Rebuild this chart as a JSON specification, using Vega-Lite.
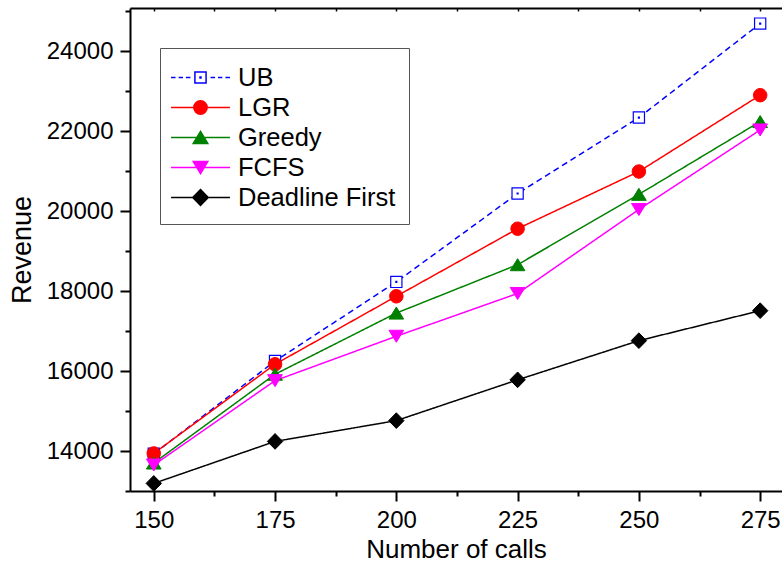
{
  "$schema": "https://vega.github.io/schema/vega-lite/v6.json",
  "autosize": {"type": "none"},
  "padding": {"left": 130, "top": 8, "right": 0, "bottom": 71},
  "width": 652,
  "height": 483,
  "background": "white",
  "config": {
    "view": {"stroke": null},
    "font": "Liberation Sans",
    "axis": {
      "grid": false,
      "domainColor": "black",
      "domainWidth": 2,
      "tickColor": "black",
      "tickWidth": 2,
      "labelFont": "Liberation Sans",
      "labelFontSize": 24,
      "labelColor": "black",
      "labelPadding": 7,
      "titleFont": "Liberation Sans",
      "titleFontWeight": "normal",
      "titleColor": "black"
    },
    "legend": {
      "padding": 13,
      "fillColor": "white",
      "strokeColor": "#555555",
      "labelFont": "Liberation Sans",
      "labelFontSize": 25.5,
      "labelColor": "black",
      "labelLimit": 400,
      "symbolSize": 961,
      "symbolStrokeWidth": 1.5,
      "symbolOffset": 11,
      "labelOffset": 21,
      "rowPadding": -0.3
    }
  },
  "data": {
    "values": [
      {"calls": 150, "series": "UB", "revenue": 13930},
      {"calls": 175, "series": "UB", "revenue": 16250},
      {"calls": 200, "series": "UB", "revenue": 18230},
      {"calls": 225, "series": "UB", "revenue": 20440},
      {"calls": 250, "series": "UB", "revenue": 22340},
      {"calls": 275, "series": "UB", "revenue": 24690},
      {"calls": 150, "series": "LGR", "revenue": 13940},
      {"calls": 175, "series": "LGR", "revenue": 16170},
      {"calls": 200, "series": "LGR", "revenue": 17870},
      {"calls": 225, "series": "LGR", "revenue": 19560},
      {"calls": 250, "series": "LGR", "revenue": 20990},
      {"calls": 275, "series": "LGR", "revenue": 22900},
      {"calls": 150, "series": "Greedy", "revenue": 13700},
      {"calls": 175, "series": "Greedy", "revenue": 15920},
      {"calls": 200, "series": "Greedy", "revenue": 17450},
      {"calls": 225, "series": "Greedy", "revenue": 18660},
      {"calls": 250, "series": "Greedy", "revenue": 20420},
      {"calls": 275, "series": "Greedy", "revenue": 22240},
      {"calls": 150, "series": "FCFS", "revenue": 13650},
      {"calls": 175, "series": "FCFS", "revenue": 15760},
      {"calls": 200, "series": "FCFS", "revenue": 16870},
      {"calls": 225, "series": "FCFS", "revenue": 17940},
      {"calls": 250, "series": "FCFS", "revenue": 20040},
      {"calls": 275, "series": "FCFS", "revenue": 22030},
      {"calls": 150, "series": "Deadline First", "revenue": 13190},
      {"calls": 175, "series": "Deadline First", "revenue": 14240},
      {"calls": 200, "series": "Deadline First", "revenue": 14760},
      {"calls": 225, "series": "Deadline First", "revenue": 15780},
      {"calls": 250, "series": "Deadline First", "revenue": 16760},
      {"calls": 275, "series": "Deadline First", "revenue": 17510}
    ]
  },
  "resolve": {"axis": {"x": "independent"}},
  "layer": [
    {
      "mark": {"type": "line", "strokeWidth": 1.5},
      "encoding": {
        "x": {
          "field": "calls", "type": "quantitative",
          "scale": {"domain": [145.1, 279.5], "nice": false, "zero": false},
          "axis": {
            "orient": "bottom",
            "title": "Number of calls",
            "titleFontSize": 26,
            "titlePadding": 4,
            "values": [150, 162.5, 175, 187.5, 200, 212.5, 225, 237.5, 250, 262.5, 275],
            "labelExpr": "datum.value % 25 === 0 ? datum.label : ''",
            "tickSize": {"condition": {"test": "datum.value % 25 !== 0", "value": 5}, "value": 10}
          }
        },
        "y": {
          "field": "revenue", "type": "quantitative",
          "scale": {"domain": [13000, 25080], "nice": false, "zero": false},
          "axis": {
            "title": "Revenue",
            "titleFontSize": 27,
            "titlePadding": 10,
            "format": "d",
            "domainWidth": 2,
            "domainColor": "black",
            "values": [13000, 14000, 15000, 16000, 17000, 18000, 19000, 20000, 21000, 22000, 23000, 24000, 25000],
            "labelExpr": "datum.value % 2000 === 0 ? datum.label : ''",
            "tickSize": {"condition": {"test": "datum.value % 2000 !== 0", "value": 5}, "value": 10}
          }
        },
        "detail": {"field": "series"},
        "stroke": {
          "field": "series", "type": "nominal",
          "scale": {"domain": ["UB", "LGR", "Greedy", "FCFS", "Deadline First"], "range": ["#0000ff", "#ff0000", "#008000", "#ff00ff", "#000000"]},
          "legend": {"title": null, "orient": "none", "legendX": 30, "legendY": 40}
        },
        "strokeDash": {
          "field": "series", "type": "nominal", "legend": null,
          "scale": {"domain": ["LGR", "Greedy", "FCFS", "Deadline First", "UB"], "range": [[1, 0], [1, 0], [1, 0], [1, 0], [6, 4]]}
        }
      }
    },
    {
      "transform": [{"filter": "datum.series === 'UB'"}],
      "mark": {"type": "point", "shape": "M-0.8,-0.8H0.8V0.8H-0.8ZM-0.07,-0.07H0.07V0.07H-0.07Z", "filled": true, "fill": "#ffffff", "stroke": "#0000ff", "size": 196, "strokeWidth": 1.2, "opacity": 1},
      "encoding": {
        "x": {
          "field": "calls", "type": "quantitative",
          "axis": {
            "orient": "top",
            "title": null,
            "labels": false,
            "domainWidth": 2,
            "tickSize": -3,
            "tickWidth": 1.5,
            "values": [150, 162.5, 175, 187.5, 200, 212.5, 225, 237.5, 250, 262.5, 275]
          }
        },
        "y": {"field": "revenue", "type": "quantitative"}
      }
    },
    {
      "transform": [{"filter": "datum.series === 'LGR'"}],
      "mark": {"type": "point", "shape": "M-0.96,0A0.96,0.96,0,1,0,0.96,0A0.96,0.96,0,1,0,-0.96,0Z", "filled": true, "fill": "#ff0000", "stroke": "#ff0000", "size": 196, "strokeWidth": 1, "opacity": 1},
      "encoding": {
        "x": {"field": "calls", "type": "quantitative", "axis": null},
        "y": {"field": "revenue", "type": "quantitative"}
      }
    },
    {
      "transform": [{"filter": "datum.series === 'Greedy'"}],
      "mark": {"type": "point", "shape": "M0,-0.86L1.05,0.86L-1.05,0.86Z", "filled": true, "fill": "#008000", "stroke": "#008000", "size": 196, "strokeWidth": 1, "opacity": 1},
      "encoding": {
        "x": {"field": "calls", "type": "quantitative", "axis": null},
        "y": {"field": "revenue", "type": "quantitative"}
      }
    },
    {
      "transform": [{"filter": "datum.series === 'FCFS'"}],
      "mark": {"type": "point", "shape": "M0,0.86L1.05,-0.86L-1.05,-0.86Z", "filled": true, "fill": "#ff00ff", "stroke": "#ff00ff", "size": 196, "strokeWidth": 1, "opacity": 1},
      "encoding": {
        "x": {"field": "calls", "type": "quantitative", "axis": null},
        "y": {"field": "revenue", "type": "quantitative"}
      }
    },
    {
      "transform": [{"filter": "datum.series === 'Deadline First'"}],
      "mark": {"type": "point", "shape": "M0,-1.12L1.1,0L0,1.12L-1.1,0Z", "filled": true, "fill": "#000000", "stroke": "#000000", "size": 196, "strokeWidth": 1, "opacity": 1},
      "encoding": {
        "x": {"field": "calls", "type": "quantitative", "axis": null},
        "y": {"field": "revenue", "type": "quantitative"}
      }
    },
    {
      "transform": [{"filter": "datum.calls < 0"}],
      "mark": {"type": "point", "opacity": 1, "strokeWidth": 1.5},
      "encoding": {
        "x": {"field": "calls", "type": "quantitative", "axis": null},
        "y": {"field": "revenue", "type": "quantitative"},
        "shape": {
          "field": "series", "type": "nominal",
          "scale": {
            "domain": ["UB", "LGR", "Greedy", "FCFS", "Deadline First"],
            "range": [
              "M-1.9,0H-1.61M-1.41,0H-1.13M-0.94,0H-0.65M0.65,0H0.94M1.13,0H1.41M1.61,0H1.9M-0.36,-0.36H0.36V0.36H-0.36ZM-0.03,-0.03H0.03V0.03H-0.03Z",
              "M-1.9,0H1.9M-0.43,0A0.43,0.43,0,1,0,0.43,0A0.43,0.43,0,1,0,-0.43,0Z",
              "M-1.9,0H1.9M0,-0.39L0.47,0.39L-0.47,0.39Z",
              "M-1.9,0H1.9M0,0.39L0.47,-0.39L-0.47,-0.39Z",
              "M-1.9,0H1.9M0,-0.51L0.5,0L0,0.51L-0.5,0Z"
            ]
          },
          "legend": {"title": null, "orient": "none", "legendX": 30, "legendY": 40}
        },
        "stroke": {
          "field": "series", "type": "nominal",
          "scale": {"domain": ["UB", "LGR", "Greedy", "FCFS", "Deadline First"], "range": ["#0000ff", "#ff0000", "#008000", "#ff00ff", "#000000"]},
          "legend": {"title": null, "orient": "none", "legendX": 30, "legendY": 40}
        },
        "fill": {
          "field": "series", "type": "nominal",
          "scale": {"domain": ["UB", "LGR", "Greedy", "FCFS", "Deadline First"], "range": ["#ffffff", "#ff0000", "#008000", "#ff00ff", "#000000"]},
          "legend": {"title": null, "orient": "none", "legendX": 30, "legendY": 40}
        }
      }
    }
  ]
}
